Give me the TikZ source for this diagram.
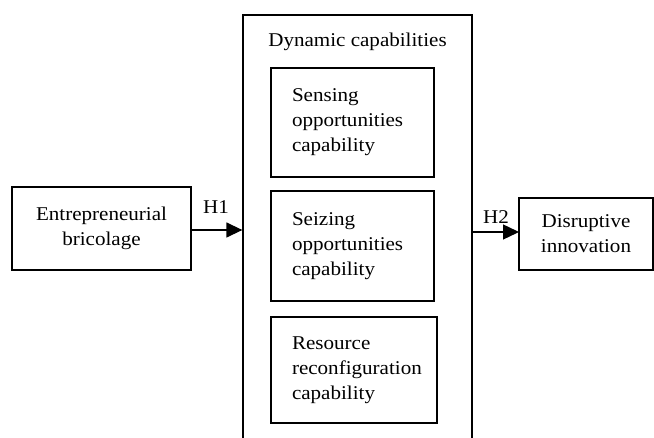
\documentclass[tikz,border=0pt]{standalone}
\usepackage{fontspec}
\setmainfont{Liberation Serif}[FakeStretch=1.08]
\usetikzlibrary{arrows.meta}
\begin{document}
\begin{tikzpicture}[x=1pt,y=-1pt,
  every node/.style={font=\fontsize{19.5}{25}\selectfont},
  box/.style={draw, line width=1.3pt, rectangle, inner sep=0pt},
  capbox/.style={box, align=left, inner xsep=21pt, text width=#1},
  arr/.style={line width=1.4pt, -{Triangle[length=16pt,width=15pt]}},
  lab/.style={inner sep=0pt, anchor=base}]
\clip (0,0) rectangle (654,438);
\fill[white] (0,0) rectangle (654,438);
% outer box
\node[box, minimum width=229pt, minimum height=445pt] (outer) at (357.5,237.5) {};
\node[lab] (title) at (357.5,47) {Dynamic capabilities};
% inner boxes
\node[capbox=121pt, minimum width=163pt, minimum height=109pt] (sense) at (352.5,122.5)
  {Sensing\\opportunities\\capability};
\node[capbox=121pt, minimum width=163pt, minimum height=110pt] (seize) at (352.5,246)
  {Seizing\\opportunities\\capability};
\node[capbox=124pt, minimum width=166pt, minimum height=106pt] (reconf) at (354,370)
  {Resource\\reconfiguration\\capability};
% left and right boxes
\node[box, align=center, minimum width=179pt, minimum height=83pt] (eb) at (101.5,228.5)
  {Entrepreneurial\\bricolage};
\node[box, align=center, minimum width=134pt, minimum height=72pt] (di) at (586,234)
  {Disruptive\\innovation};
% arrows
\coordinate (h1s) at (191,230);
\coordinate (h2e) at (519,232);
\draw[arr] (h1s) -- (h1s -| outer.west);
\draw[arr] (h2e -| outer.east) -- (h2e);
\node[lab] (h1) at (216,214) {H1};
\node[lab] (h2) at (496,224) {H2};
\end{tikzpicture}
\end{document}
